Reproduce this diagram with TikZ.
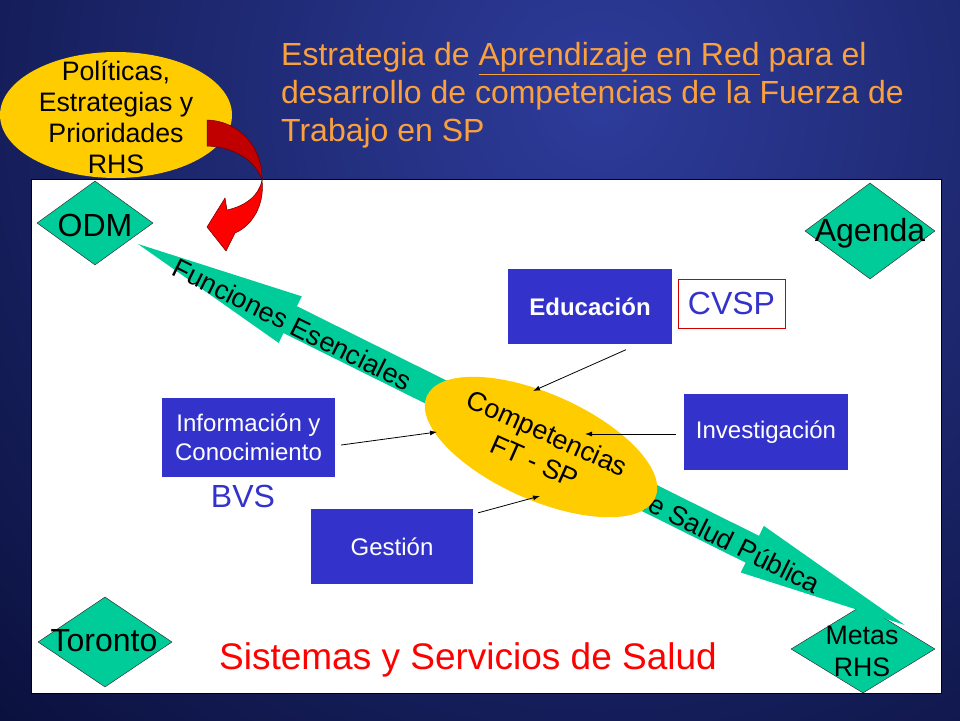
\documentclass[tikz,border=0pt]{standalone}
\usepackage{fontspec}
\setmainfont{Liberation Sans}
\usetikzlibrary{shapes.geometric,arrows.meta}
\definecolor{bluebox}{RGB}{51,51,204}
\definecolor{greenc}{RGB}{0,204,153}
\definecolor{yel}{RGB}{255,204,0}
\definecolor{titleor}{RGB}{250,160,60}
\definecolor{darkred}{RGB}{192,0,0}
\definecolor{brightred}{RGB}{255,0,0}
\definecolor{navyA}{RGB}{10,16,60}
\definecolor{navyB}{RGB}{46,60,155}
\tikzset{
  bbox/.style={fill=bluebox, text=white, inner sep=0, align=center, font=\fontsize{24}{29}\selectfont},
  dia/.style={diamond, draw=black!80, line width=0.5pt, fill=greenc, inner sep=0},
  dlbl/.style={inner sep=0, align=center, font=\fontsize{32}{36}\selectfont},
  arr/.style={-{Latex[length=7pt,width=5pt]}, line width=0.8pt},
  redpiece/.style={draw=black!60!red, line width=0.5pt},
}
\begin{document}
\begin{tikzpicture}[x=1pt,y=-1pt]
\useasboundingbox (0,0) rectangle (960,720);
% background
\begin{scope}
\clip (0,0) rectangle (960,720);
\fill[navyA] (-50,-50) rectangle (1010,770);
\shade[inner color=navyB, outer color=navyA] (600,100) circle (880);
\end{scope}
% title
\node[anchor=north west, inner sep=0, align=left, text=titleor, font=\fontsize{32}{38}\selectfont] (title) at (281,42.5)
 {Estrategia de \underline{Aprendizaje en Red} para el\\desarrollo de competencias de la Fuerza de\\Trabajo en SP};
% politicas ellipse
\node[ellipse, fill=yel, minimum width=232pt, minimum height=126pt, inner sep=0] (pol) at (116,115) {};
\node[inner sep=0, align=center, font=\fontsize{26.7}{31}\selectfont] (poltxt) at (116,117) {Políticas,\\Estrategias y\\Prioridades\\RHS};
% panel
\node[draw=black, line width=0.6pt, fill=white, minimum width=910pt, minimum height=514pt, inner sep=0, anchor=north west] (panel) at (31,179) {};
% red curved arrow
\filldraw[redpiece, fill=darkred] (207,120) .. controls (240,121) and (263,148) .. (262,180)
   .. controls (256,162) and (236,147) .. (207,146) -- cycle;
\filldraw[redpiece, fill=brightred] (262,180) .. controls (265,205) and (252,226) .. (235,233)
   -- (226,251) -- (207,227) -- (225,198) -- (227,210)
   .. controls (245,206) and (259,196) .. (262,180) -- cycle;
% diamonds
\node[dia, minimum width=116pt, minimum height=84pt] (odm) at (95,223) {};
\node[dlbl] (odmtxt) at (95,225) {ODM};
\node[dia, minimum width=130pt, minimum height=96pt] (agenda) at (870,231) {};
\node[dlbl] (agtxt) at (870,233) {Agenda};
\node[dia, minimum width=134pt, minimum height=90pt] (toronto) at (105,642) {};
\node[dlbl] (totxt) at (104,641) {Toronto};
\node[dia, minimum width=144pt, minimum height=88pt] (metas) at (863,649) {};
\node[inner sep=0, align=center, font=\fontsize{26.7}{32}\selectfont] (metxt) at (862,651) {Metas\\RHS};
% green double arrow with text
\begin{scope}[shift={(138,244)}, rotate=-26.42]
\fill[greenc] (0,0) -- (170,-26) -- (170,-15) -- (686,-15) -- (686,-26) -- (856,0)
   -- (686,26) -- (686,15) -- (170,15) -- (170,26) -- cycle;
\node[rotate=-26.42, inner sep=0, font=\fontsize{27}{30}\selectfont] (fe) at (174,3) {Funciones Esenciales};
\node[rotate=-26.42, anchor=east, inner sep=0, font=\fontsize{27}{30}\selectfont] (sp) at (762,3) {de Salud Pública};
\end{scope}
% competencias
\node[ellipse, fill=yel, minimum width=250pt, minimum height=106pt, rotate=-24, inner sep=0, align=center,
      font=\fontsize{27}{31}\selectfont] (comp) at (541,447) {Competencias\\FT - SP};
% boxes
\node[bbox, minimum width=164pt, minimum height=75pt, font=\bfseries\fontsize{24}{29}\selectfont] (edu) at (590,306.5) {Educación};
\node[draw=red!80!black, line width=0.8pt, fill=white, minimum width=107pt, minimum height=49pt, inner sep=0,
      text=bluebox, font=\fontsize{32}{36}\selectfont] (cvsp) at (731.5,303.5) {CVSP};
\node[bbox, minimum width=173pt, minimum height=79pt] (info) at (248.5,437.5) {Información y\\Conocimiento};
\node[inner sep=0, text=bluebox, font=\fontsize{32}{36}\selectfont] (bvs) at (243,496) {BVS};
\node[bbox, minimum width=164pt, minimum height=76pt] (inv) at (766,432) {Investigación};
\node[bbox, minimum width=162pt, minimum height=75pt] (ges) at (392,546.5) {Gestión};
% bottom text
\node[inner sep=0, text=brightred, font=\fontsize{37}{40}\selectfont] (sis) at (468,660) {Sistemas y Servicios de Salud};
% connectors
\coordinate (t1) at (533,391);
\coordinate (t2) at (437,432);
\coordinate (t3) at (585,434);
\coordinate (t4) at (540,496);
\draw[arr] ([xshift=36pt,yshift=-5.5pt]edu.south) -- (t1);
\draw[arr] ([xshift=6pt,yshift=-7.5pt]info.east) -- (t2);
\draw[arr] ([xshift=-8pt,yshift=-2pt]inv.west) -- (t3);
\draw[arr] ([xshift=5pt,yshift=-4pt]ges.north east) -- (t4);
\end{tikzpicture}
\end{document}
